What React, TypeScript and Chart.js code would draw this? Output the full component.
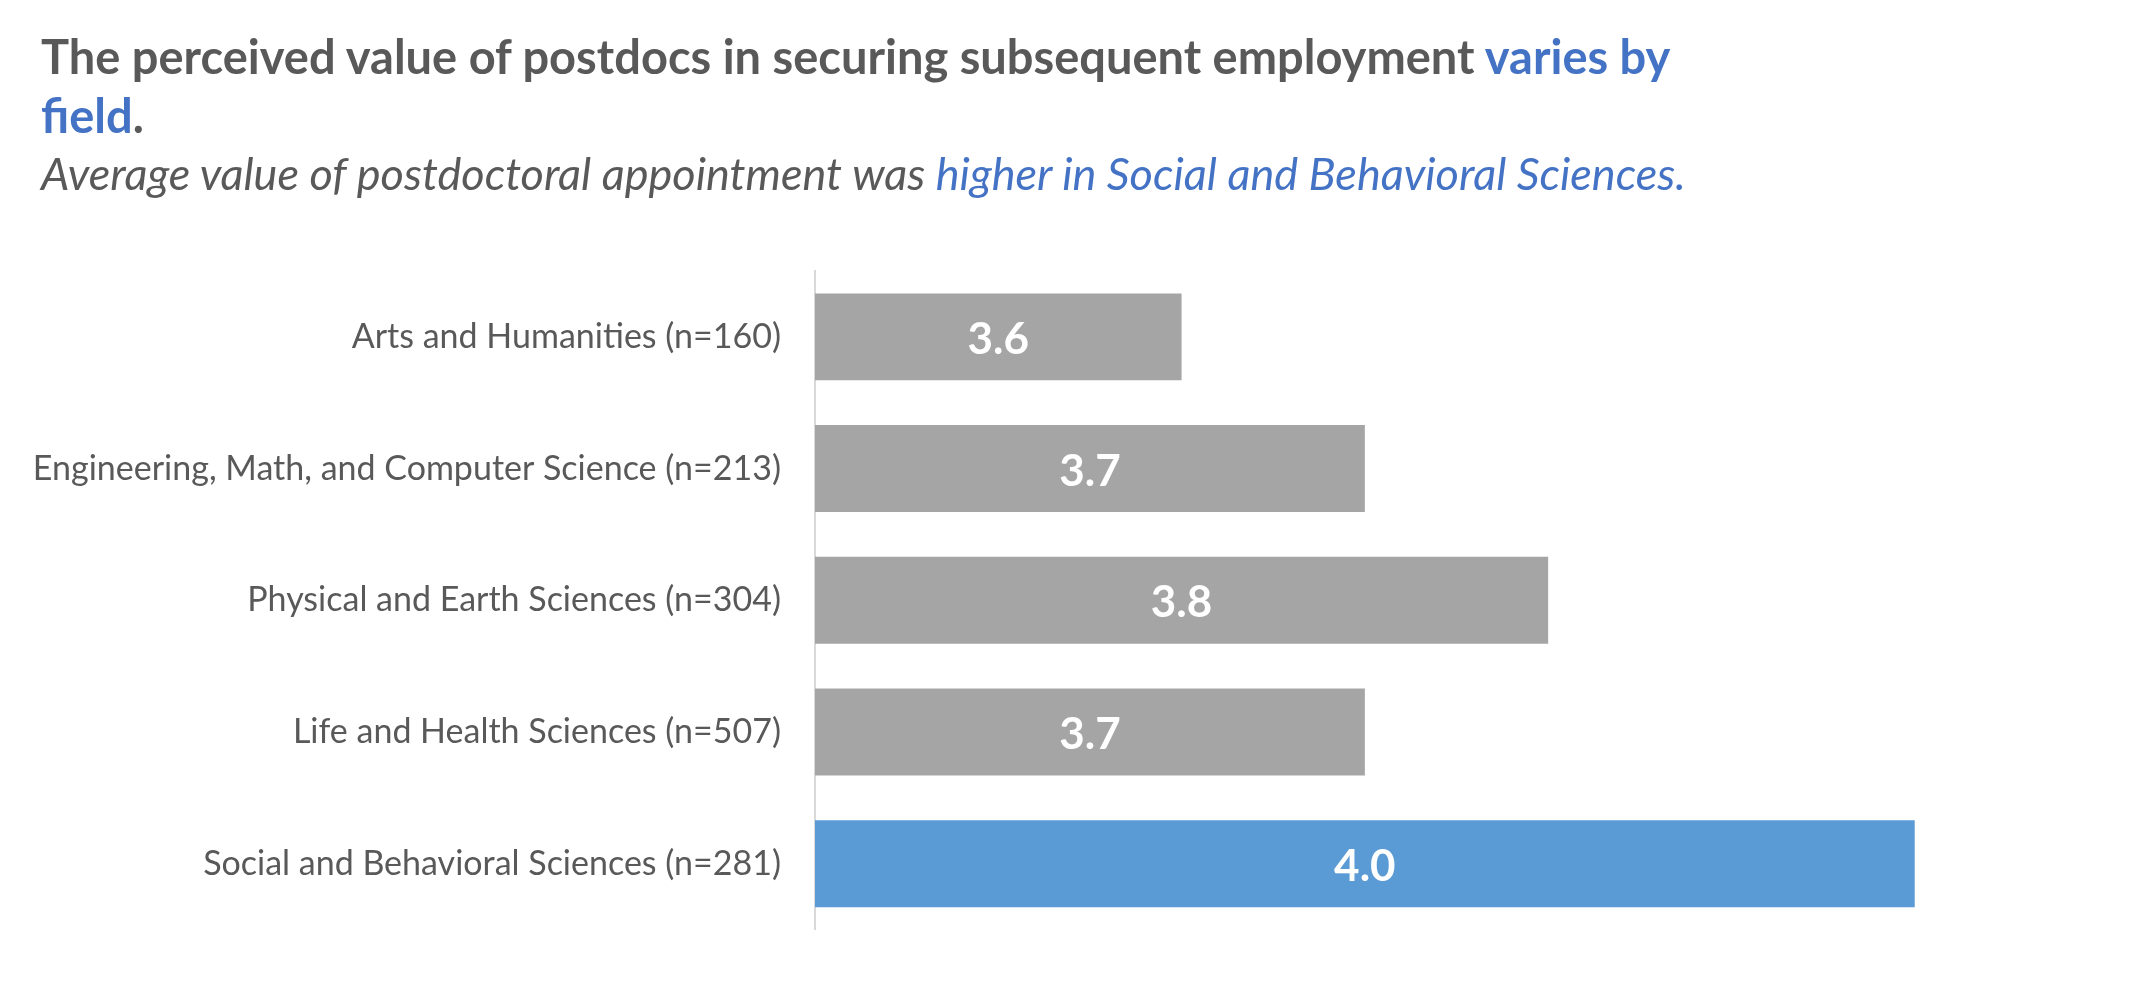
import React, { useEffect, useRef } from "react";
import { Chart, registerables } from "chart.js";

Chart.register(...registerables);

const categories = [
  "Arts and Humanities (n=160)",
  "Engineering, Math, and Computer Science (n=213)",
  "Physical and Earth Sciences (n=304)",
  "Life and Health Sciences (n=507)",
  "Social and Behavioral Sciences (n=281)",
];
const values = [3.6, 3.7, 3.8, 3.7, 4.0];
const barColors = ["#A5A5A5", "#A5A5A5", "#A5A5A5", "#A5A5A5", "#5B9BD5"];
const axisMin = 3.4;
const axisMax = 4.1;

const FONT = "Lato, 'Open Sans', sans-serif";
const GRAY = "#595959";
const BLUE = "#4472C4";

const labelPlugin = {
  id: "barLabels",
  afterDraw(chart: any) {
    const ctx = chart.ctx;
    const meta = chart.getDatasetMeta(0);
    const xs = chart.scales.x;
    ctx.save();
    ctx.fillStyle = "#FFFFFF";
    ctx.font = `bold 44px ${FONT}`;
    ctx.textAlign = "center";
    ctx.textBaseline = "middle";
    meta.data.forEach((bar: any, i: number) => {
      const x0 = xs.getPixelForValue(axisMin);
      const x1 = xs.getPixelForValue(values[i]);
      ctx.fillText(values[i].toFixed(1), (x0 + x1) / 2, bar.y + 3);
    });
    ctx.restore();
  },
};

export default function App() {
  const ref = useRef<HTMLCanvasElement>(null);

  useEffect(() => {
    if (!ref.current) return;
    const chart = new Chart(ref.current, {
      type: "bar",
      data: {
        labels: categories,
        datasets: [
          {
            data: values,
            backgroundColor: barColors,
            borderWidth: 0,
            categoryPercentage: 1,
            barPercentage: 0.66,
          },
        ],
      },
      options: {
        indexAxis: "y",
        animation: false,
        responsive: false,
        maintainAspectRatio: false,
        devicePixelRatio: 1,
        layout: { padding: { left: 0, right: 47, top: 271, bottom: 45 } },
        plugins: {
          legend: { display: false },
          tooltip: { enabled: false },
          title: { display: false },
        },
        scales: {
          x: {
            display: false,
            min: axisMin,
            max: axisMax,
            grid: { display: false },
          },
          y: {
            afterFit: (scale: any) => {
              scale.width = 815;
            },
            grid: { display: false, drawTicks: false },
            border: { display: true, color: "#D9D9D9", width: 2 },
            ticks: {
              color: GRAY,
              padding: 34,
              font: { family: FONT, size: 34 },
            },
          },
        },
      },
      plugins: [labelPlugin],
    });
    return () => chart.destroy();
  }, []);

  return (
    <div
      style={{
        position: "fixed",
        left: 0,
        top: 0,
        width: 2145,
        height: 984,
        background: "#FFFFFF",
        overflow: "hidden",
      }}
    >
      <canvas
        ref={ref}
        width={2145}
        height={984}
        style={{ position: "absolute", left: 0, top: 0, width: 2145, height: 984 }}
      />
      <div
        style={{
          position: "absolute",
          left: 41,
          top: 27,
          fontFamily: FONT,
          fontWeight: 700,
          fontSize: 47,
          lineHeight: "59px",
          color: GRAY,
          whiteSpace: "nowrap",
        }}
      >
        The perceived value of postdocs in securing subsequent employment{" "}
        <span style={{ color: BLUE }}>varies by</span>
        <br />
        <span style={{ color: BLUE }}>field</span>.
      </div>
      <div
        style={{
          position: "absolute",
          left: 41,
          top: 145,
          fontFamily: FONT,
          fontStyle: "italic",
          fontSize: 45,
          lineHeight: "56px",
          color: GRAY,
          whiteSpace: "nowrap",
        }}
      >
        Average value of postdoctoral appointment was{" "}
        <span style={{ color: BLUE }}>higher in Social and Behavioral Sciences.</span>
      </div>
    </div>
  );
}
